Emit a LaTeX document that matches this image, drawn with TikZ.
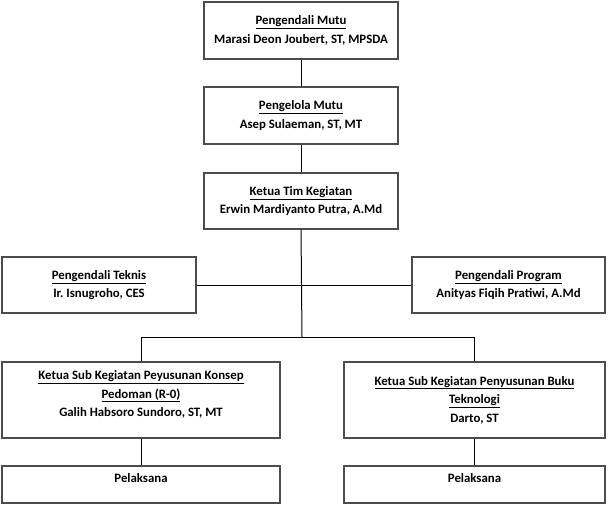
\documentclass[tikz,border=0pt]{standalone}
\usepackage{fontspec}
\setmainfont{Carlito}
\frenchspacing

\begin{document}
\begin{tikzpicture}[x=1pt, y=-1pt, line width=1pt, org_box/.style={draw=black!70, line width=1.3pt, fill=white, align=center, inner sep=0pt, minimum width=194pt, minimum height=56pt, font=\fontsize{12.8}{18.5}\selectfont\bfseries}, sub_box/.style={org_box, minimum width=#1}]
				\useasboundingbox (0,0) rectangle (608,506);
				\node[org_box, minimum height=57pt](mutu) at (301,30.5){\underline{Pengendali Mutu}\\Marasi Deon Joubert, ST, MPSDA};
				\node[org_box, minimum height=57pt](pengelola) at (301,115.5){\underline{Pengelola Mutu}\\Asep Sulaeman, ST, MT};
				\node[org_box](tim) at (301,201){\underline{Ketua Tim Kegiatan}\\Erwin Mardiyanto Putra, A.Md};
				\node[org_box](teknis) at (99,285){\underline{Pengendali Teknis}\\Ir. Isnugroho, CES};
				\node[org_box, minimum width=193pt](program) at (508.5,285){\underline{Pengendali Program}\\Anityas Fiqih Pratiwi, A.Md};
				\node[sub_box=278pt, minimum height=76pt](konsep) at (141,400){\underline{Ketua Sub Kegiatan Peyusunan Konsep}\\\underline{Pedoman (R-0)}\\Galih Habsoro Sundoro, ST, MT\\[-6pt]~};
				\node[sub_box=261pt, minimum height=76pt](buku) at (474.5,400){\underline{Ketua Sub Kegiatan Penyusunan Buku}\\\underline{Teknologi}\\Darto, ST};
				\node[sub_box=278pt, minimum height=37pt](pelaksana1) at (141,484.5){Pelaksana\\[-5pt]~};
				\node[sub_box=261pt, minimum height=37pt](pelaksana2) at (474.5,484.5){Pelaksana\\[-5pt]~};
				\coordinate (split) at (302,337);
				\draw (mutu) -- (pengelola);
				\draw (pengelola) -- (tim);
				\draw (tim.south) -- (split);
				\draw (teknis.east) -- (program.west);
				\draw (konsep.north) |- (split);
				\draw (buku.north) |- (split);
				\draw (konsep) -- (pelaksana1);
				\draw (buku) -- (pelaksana2);
			\end{tikzpicture}
\end{document}
